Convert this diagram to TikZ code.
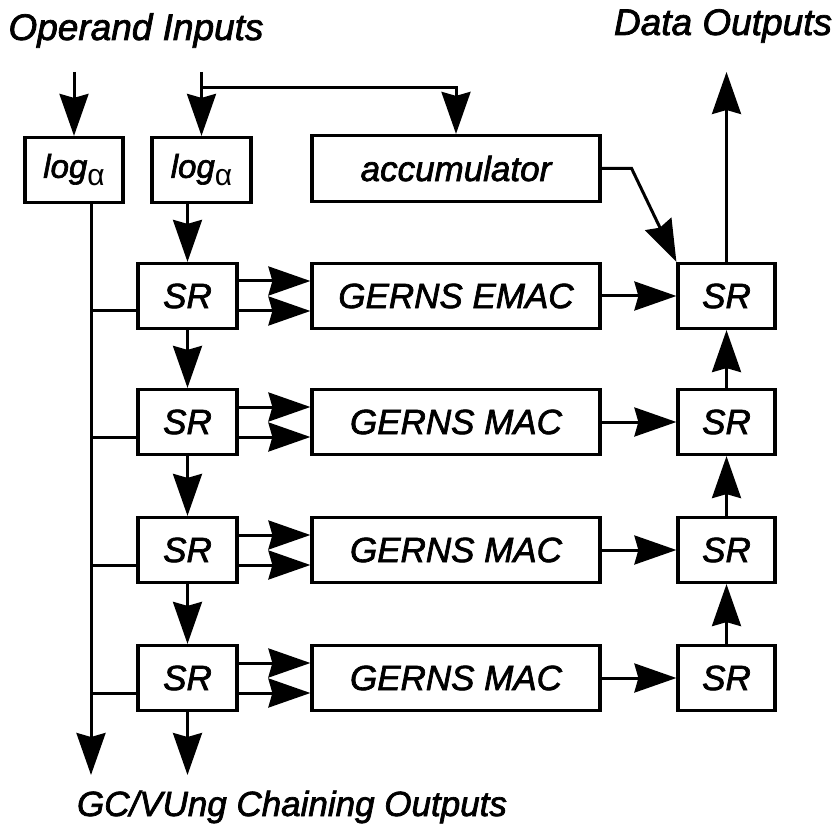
\documentclass[tikz,border=0pt]{standalone}
\usepackage{fontspec}
\setmainfont{Liberation Sans}[ItalicFeatures={FakeBold=2}]
\usetikzlibrary{arrows.meta,calc}

\begin{document}
\begin{tikzpicture}[x=1pt,y=-1pt,line width=3pt,line join=miter]
  \tikzset{
    blk/.style={draw=black,line width=3.2pt,inner sep=0pt,minimum height=65pt,
      font=\fontsize{35}{40}\selectfont\itshape},
    srbox/.style={blk,minimum width=99pt},
    macbox/.style={blk,minimum width=288pt},
    caption/.style={anchor=base,inner sep=0pt,font=\fontsize{37}{42}\selectfont\itshape},
    flow/.style={-{Stealth[length=42pt,width=29pt,inset=4pt]}}
  }
  \useasboundingbox (0,0) rectangle (838,826);

  % headings
  \node[caption] (opin) at (136,40) {Operand Inputs};
  \node[caption] (dout) at (723,35) {Data Outputs};
  \node[caption,font=\fontsize{35}{40}\selectfont\itshape] (gcout) at (292,816)
    {GC/VUng Chaining Outputs};

  % input stage
  \node[blk,minimum width=98pt] (log1) at (74,170)
    {\fontsize{33}{40}\selectfont log{\fontsize{30}{30}\selectfont\upshape\raisebox{-8pt}{α}}};
  \node[srbox] (log2) at (201.5,170)
    {\fontsize{33}{40}\selectfont log{\fontsize{30}{30}\selectfont\upshape\raisebox{-8pt}{α}}};
  \node[macbox,minimum height=66pt] (acc) at (456,168.5) {accumulator};

  % one row per MAC: shift register, MAC, output register
  \foreach \ry/\lbl [count=\i] in {296/GERNS EMAC,422/GERNS MAC,550/GERNS MAC,678/GERNS MAC}{
    \node[srbox] (srl\i) at (187.5,\ry) {SR};
    \node[macbox] (mac\i) at (456,\ry) {\lbl};
    \node[srbox,minimum width=97pt] (srr\i) at (726.5,\ry) {SR};
  }

  \coordinate (in1) at (74,72);
  \coordinate (in2) at (201.5,72);
  \coordinate (up) at (726.5,72);
  \coordinate (bustop) at ($(log1.south)+(17,0)$);
  \coordinate (busend) at (91,775);
  \coordinate (chain) at (187.5,775);

  \draw[flow] (in1) -- (log1.north);
  \draw[flow] (in2) -- (log2.north);
  \draw[flow] ($(in2)+(0,16)$) -| (acc.north);
  \draw[flow] (acc.east) -- ++(30,0) -- (srr1.north west);
  \draw[flow] (srr1.north) -- (up);

  % left column chain and the log bus
  \draw[flow] (srl1.north |- log2.south) -- (srl1.north);
  \foreach \i/\j in {1/2,2/3,3/4}{
    \draw[flow] (srl\i.south) -- (srl\j.north);
    \draw[flow] (srr\j.north) -- (srr\i.south);
  }
  \draw[flow] (srl4.south) -- (chain);
  \draw[flow] (bustop) -- (busend);

  \foreach \i in {1,...,4}{
    \draw ($(srl\i.west)+(0,15)$) coordinate (tap\i) -- (tap\i -| bustop);
    \draw[flow] ($(srl\i.east)+(0,-15)$) -- ($(mac\i.west)+(0,-15)$);
    \draw[flow] ($(srl\i.east)+(0,15)$) -- ($(mac\i.west)+(0,15)$);
    \draw[flow] (mac\i.east) -- (srr\i.west);
  }
\end{tikzpicture}
\end{document}
